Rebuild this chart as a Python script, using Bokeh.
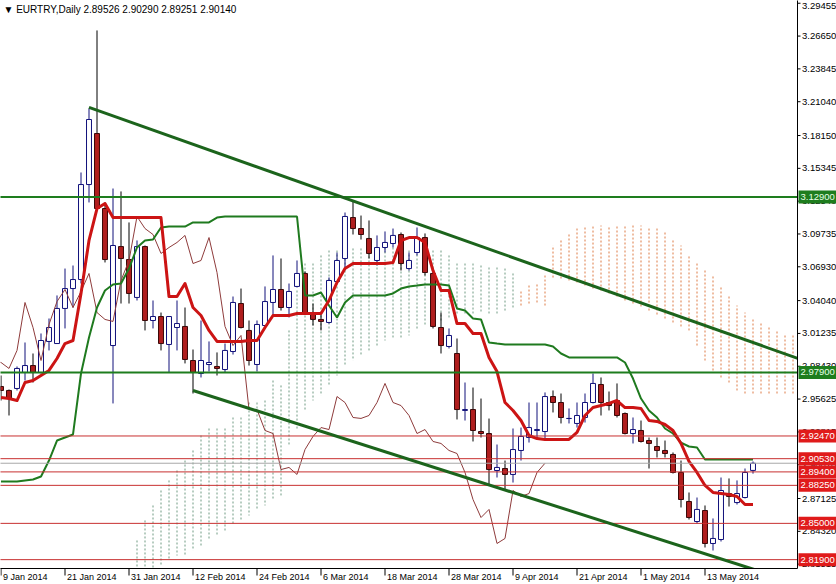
import pandas as pd
from bokeh.plotting import figure
from bokeh.models import Range1d, ColumnDataSource
from bokeh.core.properties import value
from bokeh.embed import file_html
from bokeh.resources import INLINE

# ---------------- data (EURTRY daily) ----------------
open_ = [2.9670, 2.9636, 2.9653, 2.9790, 2.9849, 2.9790, 3.0055, 3.0037, 3.0337, 3.0507,
         3.0584, 3.1396, 3.1832, 3.1191, 3.0020, 3.0866, 3.0755, 3.0431, 3.0866, 3.0234,
         3.0268, 3.0029, 3.0174, 3.0183, 2.9892, 2.9781, 2.9858, 2.9841, 2.9815, 2.9969,
         3.0379, 3.0149, 2.9858, 3.0191, 3.0388, 3.0499, 3.0345, 3.0525, 3.0636, 3.0302,
         3.0243, 3.0217, 3.0567, 3.0764, 3.1114, 3.1020, 3.0935, 3.0747, 3.0858, 3.0892,
         3.0969, 3.0678, 3.0815, 3.0943, 3.0636, 3.0174, 3.0012, 2.9952, 2.9465, 2.9473,
         2.9285, 2.9268, 2.8952, 2.8969, 2.8918, 2.9123, 2.9234, 2.9294, 2.9285, 2.9584,
         2.9533, 2.9396, 2.9354, 2.9405, 2.9533, 2.9687, 2.9533, 2.9550, 2.9439, 2.9268,
         2.9294, 2.9208, 2.9157, 2.9123, 2.9089, 2.8935, 2.8687, 2.8516, 2.8610, 2.8328,
         2.8362, 2.8755, 2.8678, 2.8721, 2.89526]
high = [2.9764, 2.9644, 2.9841, 3.0046, 2.9952, 3.0123, 3.0251, 3.0448, 3.0678, 3.0704,
        3.1499, 3.2046, 3.2713, 3.1243, 3.1362, 3.1337, 3.1072, 3.0918, 3.0875, 3.0405,
        3.0302, 3.0268, 3.0405, 3.0345, 2.9986, 3.0234, 3.0055, 2.9961, 3.0037, 3.0439,
        3.0507, 3.0234, 3.0234, 3.0525, 3.0790, 3.0764, 3.0550, 3.0747, 3.0653, 3.0379,
        3.0294, 3.0602, 3.0815, 3.1157, 3.1251, 3.1131, 3.1089, 3.0961, 3.0995, 3.1020,
        3.0986, 3.0815, 3.1029, 3.0978, 3.0678, 3.0302, 3.0166, 3.0080, 2.9704, 2.9661,
        2.9567, 2.9396, 2.9174, 2.9037, 2.9311, 2.9319, 2.9533, 2.9533, 2.9619, 2.9636,
        2.9610, 2.9482, 2.9533, 2.9610, 2.9781, 2.9747, 2.9627, 2.9696, 2.9448, 2.9405,
        2.9379, 2.9234, 2.9234, 2.9208, 2.9106, 2.9037, 2.8764, 2.8721, 2.8653, 2.8542,
        2.8892, 2.8884, 2.8867, 2.8969, 2.90290]
low = [2.9550, 2.9422, 2.9636, 2.9721, 2.9704, 2.9781, 2.9978, 3.0037, 3.0166, 3.0345,
       3.0550, 3.1243, 3.1174, 3.0730, 2.9525, 3.0379, 3.0379, 3.0405, 3.0149, 3.0166,
       2.9978, 2.9790, 2.9978, 2.9867, 2.9610, 2.9747, 2.9798, 2.9764, 2.9790, 2.9943,
       3.0166, 2.9849, 2.9798, 3.0174, 3.0268, 3.0319, 3.0260, 3.0516, 3.0294, 3.0191,
       3.0149, 3.0208, 3.0559, 3.0687, 3.0969, 3.0926, 3.0764, 3.0704, 3.0815, 3.0858,
       3.0661, 3.0661, 3.0790, 3.0619, 3.0166, 2.9952, 2.9995, 2.9388, 2.9379, 2.9200,
       2.9234, 2.8824, 2.8892, 2.8790, 2.8849, 2.9037, 2.9191, 2.9225, 2.9217, 2.9448,
       2.9354, 2.9354, 2.9319, 2.9362, 2.9525, 2.9422, 2.9465, 2.9405, 2.9260, 2.9183,
       2.9191, 2.8969, 2.9063, 2.9063, 2.8926, 2.8636, 2.8533, 2.8499, 2.8294, 2.8268,
       2.8345, 2.8644, 2.8661, 2.8713, 2.89251]
close_ = [2.9636, 2.9567, 2.9824, 2.9849, 2.9790, 3.0063, 3.0174, 3.0337, 3.0507, 3.0584,
          3.1396, 3.1952, 3.1191, 3.0755, 3.0875, 3.0764, 3.0465, 3.0866, 3.0234, 3.0268,
          3.0037, 3.0268, 3.0208, 2.9901, 2.9790, 2.9892, 2.9875, 2.9824, 2.9978, 3.0388,
          3.0174, 2.9892, 3.0200, 3.0396, 3.0499, 3.0345, 3.0482, 3.0636, 3.0302, 3.0243,
          3.0226, 3.0576, 3.0747, 3.1123, 3.1020, 3.0969, 3.0807, 3.0858, 3.0901, 3.0961,
          3.0721, 3.0747, 3.0943, 3.0644, 3.0183, 3.0020, 3.0106, 2.9473, 2.9473, 2.9294,
          2.9268, 2.8960, 2.8978, 2.8918, 2.9131, 2.9243, 2.9319, 2.9302, 2.9584, 2.9533,
          2.9405, 2.9397, 2.9422, 2.9533, 2.9696, 2.9533, 2.9507, 2.9422, 2.9268, 2.9302,
          2.9200, 2.9183, 2.9123, 2.9097, 2.8935, 2.8704, 2.8550, 2.8619, 2.8328, 2.8371,
          2.8781, 2.8730, 2.8755, 2.8935, 2.90140]

tenkan = [2.9576, 2.9567, 2.9550, 2.9704, 2.9721, 2.9764, 2.9807, 2.9909, 3.0037, 3.0063,
          3.0465, 3.0918, 3.1191, 3.1234, 3.1114, 3.1114, 3.1114, 3.1114, 3.1114, 3.1114,
          3.1114, 3.0439, 3.0439, 3.0550, 3.0345, 3.0277, 3.0149, 3.0055, 3.0055, 3.0055,
          3.0055, 3.0063, 3.0063, 3.0174, 3.0277, 3.0277, 3.0277, 3.0294, 3.0294, 3.0294,
          3.0294, 3.0405, 3.0559, 3.0678, 3.0721, 3.0721, 3.0721, 3.0721, 3.0721, 3.0730,
          3.0918, 3.0943, 3.0943, 3.0901, 3.0661, 3.0490, 3.0490, 3.0208, 3.0208, 3.0123,
          3.0123, 2.9918, 2.9798, 2.9533, 2.9465, 2.9379, 2.9251, 2.9225, 2.9217, 2.9217,
          2.9217, 2.9217, 2.9277, 2.9422, 2.9490, 2.9507, 2.9525, 2.9550, 2.9490, 2.9490,
          2.9482, 2.9379, 2.9371, 2.9345, 2.9294, 2.9183, 2.9029, 2.8935, 2.8824, 2.8764,
          2.8755, 2.8747, 2.8730, 2.8661, 2.8661]
kijun = [2.8858, 2.8858, 2.8858, 2.8867, 2.8875, 2.8901, 2.9037, 2.9208, 2.9234, 2.9260,
         2.9781, 3.0089, 3.0345, 3.0490, 3.0542, 3.0550, 3.0678, 3.0858, 3.0918, 3.0926,
         3.1029, 3.1037, 3.1037, 3.1037, 3.1072, 3.1072, 3.1072, 3.1114, 3.1123, 3.1123,
         3.1123, 3.1123, 3.1123, 3.1123, 3.1123, 3.1123, 3.1123, 3.1123, 3.0448, 3.0448,
         3.0473, 3.0362, 3.0260, 3.0388, 3.0448, 3.0448, 3.0448, 3.0448, 3.0448, 3.0465,
         3.0507, 3.0525, 3.0533, 3.0542, 3.0542, 3.0542, 3.0533, 3.0337, 3.0319, 3.0251,
         3.0243, 3.0046, 3.0037, 3.0029, 3.0029, 3.0029, 3.0029, 3.0029, 3.0029, 3.0012,
         2.9952, 2.9918, 2.9918, 2.9918, 2.9918, 2.9918, 2.9918, 2.9918, 2.9875, 2.9738,
         2.9567, 2.9465, 2.9405, 2.9311, 2.9268, 2.9191, 2.9157, 2.9149, 2.9046, 2.9046,
         2.9046, 2.9046, 2.9046, 2.9046, 2.9046]

# Kumo (senkou spans, already shifted forward); first value belongs to bar 17
kumo_first_bar = 17
senkou_a = [2.8354, 2.8525, 2.8653, 2.8781, 2.8867, 2.8952, 2.9037, 2.9123, 2.9251, 2.9311,
            2.9311, 2.9311, 2.9405, 2.9405, 2.9533, 2.9533, 2.9550, 2.9721, 2.9679, 3.0149,
            3.0490, 3.0721, 3.0721, 3.0790, 3.0832, 3.0832, 3.0832, 3.0850, 3.0850, 3.0850,
            3.0858, 3.0858, 3.0858, 3.0858, 3.0832, 3.0832, 3.0832, 3.0832, 3.0832, 3.0790,
            3.0721, 3.0721, 3.0721, 3.0704, 3.0687, 3.0687, 3.0678, 3.0636,
            3.0362, 3.0379, 3.0388, 3.0362, 3.0601, 3.0593, 3.0576, 3.0559, 3.0533, 3.0507,
            3.0490, 3.0465, 3.0439, 3.0405, 3.0379, 3.0354, 3.0319, 3.0285, 3.0251, 3.0217,
            3.0183, 3.0149, 3.0020, 2.9892, 2.9807, 2.9747, 2.9704, 2.9636, 2.9610, 2.9610,
            2.9610, 2.9610, 2.9610, 2.9610, 2.9610]
senkou_b = [2.8055, 2.8055, 2.8097, 2.8140, 2.8183, 2.8225, 2.8225, 2.8268, 2.8311, 2.8354,
            2.8396, 2.8439, 2.8482, 2.8525, 2.8567, 2.8610, 2.8653, 2.8696, 2.8738, 2.9166,
            2.9294, 2.9465, 2.9550, 2.9593, 2.9679, 2.9764, 2.9849, 2.9892, 2.9935, 2.9978,
            3.0020, 3.0063, 3.0089, 3.0089, 3.0106, 3.0149, 3.0191, 3.0208, 3.0234, 3.0251,
            3.0277, 3.0294, 3.0294, 3.0294, 3.0294, 3.0294, 3.0319, 3.0345,
            3.0490, 3.0533, 3.0550, 3.0636, 3.0875, 3.0935, 3.0986, 3.1020, 3.1046, 3.1046,
            3.1046, 3.1046, 3.1046, 3.1046, 3.1046, 3.1046, 3.1037, 3.1020, 3.0986, 3.0935,
            3.0875, 3.0790, 3.0730, 3.0678, 3.0619, 3.0533, 3.0448, 3.0362, 3.0302, 3.0251,
            3.0217, 3.0183, 3.0149, 3.0123, 3.0106]

chikou_shift = 26

# horizontal levels
green_levels = [3.12900, 2.97900]
red_levels = [2.92470, 2.90530, 2.89400, 2.88250, 2.85000, 2.81900]
bid_price = 2.90140

# trend lines (bar index, price)
upper_tl_bars = [11, 101]
upper_tl_prices = [3.2055, 2.9876]
lower_tl_bars = [24, 101]
lower_tl_prices = [2.9636, 2.7957]

# axis ticks
price_ticks = [3.29455, 3.26650, 3.23845, 3.21040, 3.18150, 3.15345, 3.12540, 3.09735,
               3.06930, 3.04040, 3.01235, 2.98430, 2.95625, 2.92815, 2.90010, 2.87125,
               2.84320, 2.81515]
date_tick_dates = ["2014-01-09", "2014-01-21", "2014-01-31", "2014-02-12", "2014-02-24",
                   "2014-03-06", "2014-03-18", "2014-03-28", "2014-04-09", "2014-04-21",
                   "2014-05-01", "2014-05-13"]
date_tick_labels = ["9 Jan 2014", "21 Jan 2014", "31 Jan 2014", "12 Feb 2014", "24 Feb 2014",
                    "6 Mar 2014", "18 Mar 2014", "28 Mar 2014", "9 Apr 2014", "21 Apr 2014",
                    "1 May 2014", "13 May 2014"]

title_text = "\u25BC EURTRY,Daily  2.89526 2.90290 2.89251 2.90140"

# ---------------- layout scale ----------------
W, H = 836, 584
PXX = 8.0            # pixels per bar
PXY = 1170.0         # pixels per price unit
X0 = -0.0625
X_END = X0 + W / PXX
Y_TOP = 3.2969
Y_BOT = Y_TOP - H / PXY
AX = X0 + 797 / PXX     # right price-axis line (bar units)
AY = Y_TOP - 568 / PXY  # bottom time-axis line (price units)
dx = lambda px: px / PXX
dy = lambda px: px / PXY

n = len(close_)
bars = list(range(n))
dates = pd.bdate_range("2014-01-09", periods=n)
date_pos = [int(dates.get_loc(pd.Timestamp(d))) for d in date_tick_dates]

FONT = "Liberation Sans"
AXFS = "9.5px"
p = figure(width=W, height=H, output_backend="svg", toolbar_location=None,
           x_range=Range1d(X0, X_END), y_range=Range1d(Y_BOT, Y_TOP),
           x_axis_type=None, y_axis_type=None,
           min_border_left=0, min_border_top=0, min_border_right=0, min_border_bottom=0)
p.outline_line_color = None
p.background_fill_color = "white"
p.border_fill_color = "white"

# kumo as dotted vertical strokes
kx = [kumo_first_bar + i for i in range(len(senkou_a))]
up_k = [a >= b for a, b in zip(senkou_a, senkou_b)]
src_ku = ColumnDataSource(dict(x=[x for x, u in zip(kx, up_k) if u],
                               a=[a for a, u in zip(senkou_a, up_k) if u],
                               b=[b for b, u in zip(senkou_b, up_k) if u]))
src_kd = ColumnDataSource(dict(x=[x for x, u in zip(kx, up_k) if not u],
                               a=[a for a, u in zip(senkou_a, up_k) if not u],
                               b=[b for b, u in zip(senkou_b, up_k) if not u]))
p.segment(x0="x", y0="a", x1="x", y1="b", source=src_ku, line_color="#6f9a82",
          line_width=1, line_dash="2 2")
p.segment(x0="x", y0="a", x1="x", y1="b", source=src_kd, line_color="#dd7a45",
          line_width=1, line_dash="2 2")

# candles
is_up = [c >= o for o, c in zip(open_, close_)]
src_c = ColumnDataSource(dict(
    x=bars, h=high, l=low,
    top=[max(o, c) for o, c in zip(open_, close_)],
    bot=[min(o, c) for o, c in zip(open_, close_)],
    wick=["#10107a" if u else "#000000" for u in is_up],
    fill=["#ffffff" if u else "#b01e1e" for u in is_up],
    edge=["#10107a" if u else "#3a0808" for u in is_up]))
p.segment(x0="x", y0="h", x1="x", y1="l", source=src_c, line_color="wick", line_width=1)
p.vbar(x="x", width=0.62, top="top", bottom="bot", source=src_c,
       fill_color="fill", line_color="edge", line_width=1)

# ichimoku lines
p.line([b - chikou_shift for b in bars], close_, line_color="#8e3b3b", line_width=1)
p.line(bars, kijun, line_color="#1f7a1f", line_width=2)
p.line(bars, tenkan, line_color="#cc1414", line_width=3, line_join="round")

# horizontal levels
for lv in red_levels:
    p.segment(x0=[X0 - 1], y0=[lv], x1=[AX], y1=[lv], line_color="#c83030", line_width=1)
p.segment(x0=[X0 - 1], y0=[bid_price], x1=[AX], y1=[bid_price], line_color="#a8a8a8", line_width=1)
for lv in green_levels:
    p.segment(x0=[X0 - 1], y0=[lv], x1=[AX], y1=[lv], line_color="#1e7d1e", line_width=2)

# trend lines
p.line(upper_tl_bars, upper_tl_prices, line_color="#1c641c", line_width=3)
p.line(lower_tl_bars, lower_tl_prices, line_color="#1c641c", line_width=3)

# ----- axis areas (white margins, axis lines, ticks and labels) -----
p.quad(left=[AX], right=[X_END + 1], bottom=[Y_BOT - 1], top=[Y_TOP + 1],
       fill_color="white", line_color=None)
p.quad(left=[X0 - 1], right=[X_END + 1], bottom=[Y_BOT - 1], top=[AY],
       fill_color="white", line_color=None)
p.segment(x0=[AX], y0=[AY], x1=[AX], y1=[Y_TOP + 1], line_color="black", line_width=1)
p.segment(x0=[X0 - 1], y0=[AY], x1=[AX], y1=[AY], line_color="black", line_width=1)

# price ticks + labels (top label nudged inside the canvas)
p.segment(x0=[AX] * len(price_ticks), y0=price_ticks,
          x1=[AX + dx(3)] * len(price_ticks), y1=price_ticks, line_color="black", line_width=1)
p.text(x=[AX + dx(4.5)] * len(price_ticks), y=price_ticks,
       y_offset=[3 if t == max(price_ticks) else 0 for t in price_ticks],
       text=[f"{t:.5f}" for t in price_ticks], text_font=value(FONT),
       text_font_size=AXFS, text_color="#000000", text_align="left", text_baseline="middle")

# date ticks + labels
p.segment(x0=date_pos, y0=[AY] * len(date_pos), x1=date_pos, y1=[AY - dy(7)] * len(date_pos),
          line_color="black", line_width=1)
p.text(x=[d + dx(2) for d in date_pos], y=[AY - dy(3)] * len(date_pos), text=date_tick_labels,
       text_font=value(FONT), text_font_size="9px", text_color="#000000",
       text_align="left", text_baseline="top")

# coloured price tags
tag_levels = green_levels + red_levels
tag_bg = ["#1e7d1e"] * len(green_levels) + ["#e01b1b"] * len(red_levels)
tag_fg = ["#e6ffe6"] * len(green_levels) + ["#ffffff"] * len(red_levels)
p.quad(left=[AX + dx(1)] * len(tag_levels), right=[X_END + 1] * len(tag_levels),
       bottom=[lv - dy(6.5) for lv in tag_levels], top=[lv + dy(6.5) for lv in tag_levels],
       fill_color=tag_bg, line_color=None)
p.text(x=[AX + dx(3)] * len(tag_levels), y=tag_levels, text=[f"{lv:.5f}" for lv in tag_levels],
       text_font=value(FONT), text_font_size=AXFS, text_color=tag_fg,
       text_align="left", text_baseline="middle")

# title
p.text(x=[X0 + dx(3)], y=[Y_TOP - dy(3)], text=[title_text], text_font=value(FONT),
       text_font_size="10px", text_color="#000000", text_align="left", text_baseline="top")

open("out.html", "w").write(file_html(p, INLINE))
